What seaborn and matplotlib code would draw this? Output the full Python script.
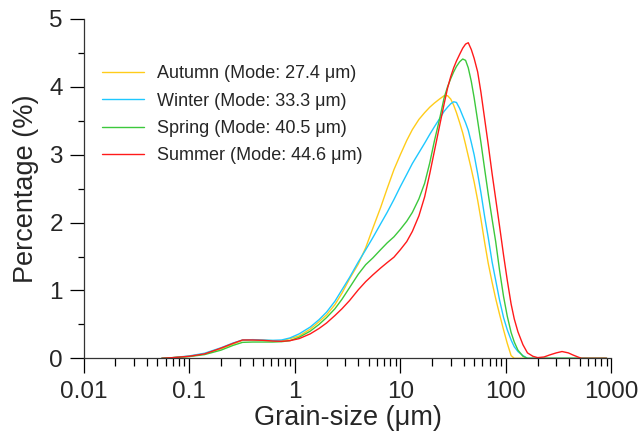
import numpy as np
import pandas as pd
import matplotlib
matplotlib.use("Agg")
import matplotlib.pyplot as plt
import seaborn as sns
from matplotlib.ticker import LogLocator, FixedLocator, NullFormatter

# ---- data ----
grain_size = [0.055, 0.07, 0.1, 0.14, 0.2, 0.26, 0.32, 0.4, 0.5, 0.62,
              0.75, 0.9, 1.1, 1.4, 1.7, 2.0, 2.4, 2.8, 3.3, 4.0,
              4.7, 5.5, 6.5, 7.5, 8.7, 10, 11.5, 13, 15, 17,
              19, 21, 23.5, 26, 28, 30, 32, 34, 36.5, 39,
              41.5, 44, 47, 50, 54, 58, 63, 68, 74, 80,
              87, 95, 103, 112, 120, 130, 145, 160, 180, 200,
              230, 260, 300, 340, 390, 430, 480, 520, 700, 900]

autumn = [0, 0.01, 0.03, 0.065, 0.14, 0.21, 0.265, 0.27, 0.265, 0.26,
          0.26, 0.29, 0.33, 0.43, 0.54, 0.64, 0.79, 0.96, 1.17, 1.39,
          1.63, 1.92, 2.22, 2.50, 2.78, 3.00, 3.21, 3.37, 3.52, 3.62,
          3.70, 3.76, 3.82, 3.87, 3.87, 3.82, 3.73, 3.62, 3.47, 3.32,
          3.15, 2.98, 2.79, 2.60, 2.33, 2.05, 1.70, 1.40, 1.12, 0.88,
          0.65, 0.42, 0.22, 0.04, 0, 0, 0, 0, 0, 0,
          0, 0, 0, 0, 0, 0, 0, 0, 0, 0]
winter = [0, 0.01, 0.035, 0.075, 0.155, 0.225, 0.27, 0.275, 0.27, 0.265,
          0.27, 0.30, 0.36, 0.46, 0.57, 0.68, 0.84, 1.01, 1.19, 1.42,
          1.60, 1.78, 1.98, 2.15, 2.34, 2.53, 2.71, 2.87, 3.03, 3.17,
          3.30, 3.41, 3.53, 3.64, 3.70, 3.75, 3.78, 3.77, 3.68, 3.57,
          3.47, 3.36, 3.18, 3.00, 2.72, 2.44, 2.08, 1.78, 1.42, 1.15,
          0.86, 0.60, 0.42, 0.27, 0.17, 0.10, 0.04, 0, 0, 0,
          0, 0, 0, 0, 0, 0, 0, 0, 0, 0]
spring = [0, 0.01, 0.025, 0.055, 0.12, 0.19, 0.235, 0.24, 0.24, 0.24,
          0.245, 0.26, 0.31, 0.40, 0.50, 0.60, 0.73, 0.87, 1.04, 1.24,
          1.38, 1.48, 1.60, 1.70, 1.79, 1.90, 2.02, 2.15, 2.35, 2.58,
          2.88, 3.20, 3.52, 3.84, 4.00, 4.12, 4.22, 4.30, 4.37, 4.41,
          4.39, 4.28, 4.08, 3.84, 3.50, 3.18, 2.78, 2.42, 2.05, 1.72,
          1.30, 0.91, 0.62, 0.38, 0.24, 0.12, 0.03, 0, 0, 0,
          0, 0, 0, 0, 0, 0, 0, 0, 0, 0]
summer = [0, 0.01, 0.03, 0.065, 0.15, 0.22, 0.27, 0.27, 0.265, 0.255,
          0.25, 0.26, 0.29, 0.36, 0.44, 0.52, 0.63, 0.73, 0.85, 1.01,
          1.13, 1.23, 1.33, 1.41, 1.49, 1.60, 1.72, 1.87, 2.10, 2.38,
          2.72, 3.05, 3.42, 3.75, 3.98, 4.15, 4.28, 4.38, 4.48, 4.57,
          4.63, 4.65, 4.55, 4.42, 4.22, 3.92, 3.52, 3.15, 2.72, 2.35,
          1.95, 1.52, 1.15, 0.80, 0.58, 0.39, 0.20, 0.08, 0.03, 0.01,
          0.02, 0.05, 0.08, 0.10, 0.08, 0.05, 0.02, 0, 0, 0]

labels = ["Autumn (Mode: 27.4 μm)", "Winter (Mode: 33.3 μm)",
          "Spring (Mode: 40.5 μm)", "Summer (Mode: 44.6 μm)"]
colors = ["#FFCC1A", "#1EC8FF", "#3CC83C", "#FF1A1A"]

df = pd.concat([
    pd.DataFrame({"size": grain_size, "pct": vals, "season": lab})
    for vals, lab in zip([autumn, winter, spring, summer], labels)
], ignore_index=True)

sns.set_style("ticks")
plt.rcParams["font.family"] = ["Liberation Sans", "DejaVu Sans"]

fig = plt.figure(figsize=(6.43, 4.41), dpi=100)
ax = fig.add_axes([0.130, 0.1875, 0.821, 0.7695])

sns.lineplot(data=df, x="size", y="pct", hue="season", hue_order=labels,
             palette=dict(zip(labels, colors)), linewidth=1.0, ax=ax,
             estimator=None, sort=False)

ax.set_xscale("log")
ax.set_xlim(0.01, 1000)
ax.set_ylim(0, 5)
ax.set_xticks([0.01, 0.1, 1, 10, 100, 1000])
ax.set_xticklabels(["0.01", "0.1", "1", "10", "100", "1000"])
ax.xaxis.set_minor_locator(LogLocator(base=10, subs=np.arange(2, 10), numticks=20))
ax.xaxis.set_minor_formatter(NullFormatter())
ax.set_yticks([0, 1, 2, 3, 4, 5])
ax.yaxis.set_minor_locator(FixedLocator([0.5, 1.5, 2.5, 3.5, 4.5]))

ax.tick_params(axis="both", which="major", labelsize=17.5, color="black",
               width=0.9, direction="out")
ax.tick_params(axis="x", which="major", length=10.5, pad=6)
ax.tick_params(axis="y", which="major", length=10, pad=5)
ax.tick_params(axis="x", which="minor", length=5.5, width=0.9, color="black")
ax.tick_params(axis="y", which="minor", length=4.5, width=0.9, color="black")

for s in ["top", "right"]:
    ax.spines[s].set_visible(False)
for s in ["left", "bottom"]:
    ax.spines[s].set_color("#333333")
    ax.spines[s].set_linewidth(0.9)

ax.set_xlabel("Grain-size (μm)", fontsize=19.5, labelpad=1)
ax.set_ylabel("Percentage (%)", fontsize=19.5, labelpad=7)

leg = ax.legend(loc="upper left", bbox_to_anchor=(0.035, 0.863), frameon=False,
                fontsize=13, handlelength=2.3, handletextpad=0.75,
                labelspacing=0.57, borderpad=0, borderaxespad=0)
for line in leg.get_lines():
    line.set_linewidth(1.0)

fig.savefig("out.png", dpi=100)
